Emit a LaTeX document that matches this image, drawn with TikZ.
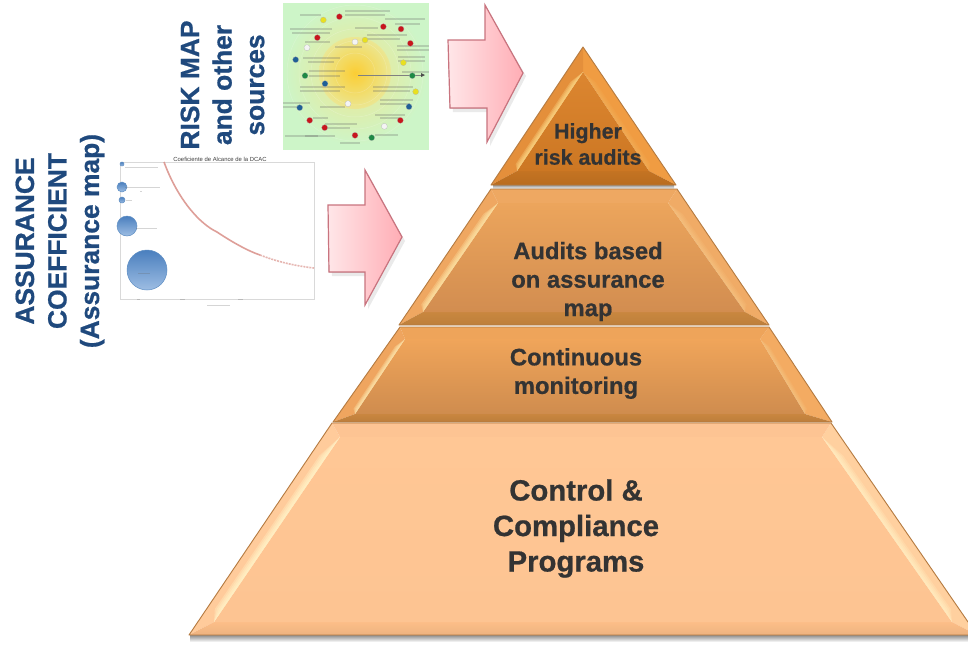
\documentclass[tikz,border=0pt]{standalone}
\usepackage{fontspec}
\setmainfont[BoldFeatures={FakeBold=0.7}]{Liberation Sans}
\usetikzlibrary{calc}
\definecolor{lblblue}{HTML}{1F497D}
\definecolor{txtdark}{HTML}{333333}
\definecolor{edgebrown}{HTML}{B47A40}
\definecolor{dotR}{HTML}{C8161C}
\definecolor{dotB}{HTML}{1F5F96}
\definecolor{dotG}{HTML}{1E8A45}
\definecolor{dotY}{HTML}{E8E020}
\definecolor{dotW}{HTML}{F4F4F4}
\definecolor{mapgreen}{HTML}{CDF5C8}
\definecolor{mapmid}{HTML}{EFE68E}
\definecolor{mapcore}{HTML}{FFC81E}
\definecolor{curvered}{HTML}{D98F88}
\tikzset{
  px/.style={x=1pt,y=-1pt},
  pyrtext/.style 2 args={font=\bfseries\fontsize{#1}{#2}\selectfont,text=txtdark,align=center,inner sep=0pt},
  sidelabel/.style={font=\bfseries\fontsize{26.4}{32.5}\selectfont,text=lblblue,align=center,inner sep=0pt,rotate=90},
  blockarrow/.style={left color=arrowpale,right color=arrowpink,draw=arrowedge,line width=1.2pt,line join=miter},
  smudge/.style={draw=black!60,line width=1.3pt,opacity=.27},
  bubble/.style={top color=bubbleA,bottom color=bubbleB,draw=bubbleE,line width=.5pt},
}
\definecolor{arrowpale}{HTML}{FFE6E8}
\definecolor{arrowpink}{HTML}{FFADB5}
\definecolor{arrowedge}{HTML}{C9747F}
\definecolor{bubbleA}{HTML}{4A7FBE}
\definecolor{bubbleB}{HTML}{9DBDE3}
\definecolor{bubbleE}{HTML}{5F8FC4}
\newcommand{\pyrlayer}[9]{% top, bottom, left, right, band, topband, pale, wedge width, right wedge opacity
  \definecolor{cT}{HTML}{#1}\definecolor{cB}{HTML}{#2}\definecolor{cL}{HTML}{#3}\definecolor{cR}{HTML}{#4}%
  \definecolor{cBand}{HTML}{#5}\definecolor{cTop}{HTML}{#6}\definecolor{cPale}{HTML}{#7}%
  \fill[cL] (o1)--(i1)--(i4)--(o4)--cycle;
  \fill[cR] (o2)--(i2)--(i3)--(o3)--cycle;
  \fill[cTop] (o1)--(o2)--(i2)--(i1)--cycle;
  \shade[top color=cBand,bottom color=cBand!94!black] (o4)--(i4)--(i3)--(o3)--cycle;
  \shade[top color=cT,bottom color=cB] (i1)--(i2)--(i3)--(i4)--cycle;
  \foreach \k in {1,2,3,4}{
    \pgfmathsetmacro{\w}{#8*\k/4}
    \fill[cPale,opacity=.28] (i1)--(i4)--($(i4)!.07!(i1)+(-\w,0)$)--($(i4)!.9!(i1)+(-\w,0)$)--cycle;
    \fill[cPale,opacity=#9] (i2)--(i3)--($(i3)!.07!(i2)+(\w,0)$)--($(i3)!.9!(i2)+(\w,0)$)--cycle;
  }
  \draw[edgebrown,line width=.9pt,line join=round] (o1)--(o2)--(o3)--(o4)--cycle;
}
\begin{document}
\begin{tikzpicture}[px]
\useasboundingbox (0,0) rectangle (968,654);
\fill[white] (0,0) rectangle (968,654);
\begin{scope}
\clip (0,0) rectangle (968,654);

% ---------- shadows
\fill[black!45,opacity=.18] (450,44) -- (487,44) -- (487,9) -- (526,76) -- (490,146) -- (490,112) -- (453,112) -- cycle;
\fill[black!45,opacity=.18] (331,209) -- (368,209) -- (368,174) -- (405,241) -- (368,309) -- (368,276) -- (332,276) -- cycle;
\shade[top color=black!45,bottom color=white] (190,635) rectangle (968,642);
\shade[top color=black!40,bottom color=white] (493,185) rectangle (674,189);

% ---------- bottom layer
\coordinate (o1) at (332,423); \coordinate (o2) at (831,423);
\coordinate (o3) at (977,635); \coordinate (o4) at (189,635);
\coordinate (i1) at (340,437); \coordinate (i2) at (822,437);
\coordinate (i3) at (952,622); \coordinate (i4) at (214,622);
\pyrlayer{FFC795}{FDC492}{FFCB9B}{FFD09F}{FCBE88}{FDC493}{FFFBD0}{8}{.2}
% ---------- third layer
\coordinate (o1) at (400,327); \coordinate (o2) at (769,327);
\coordinate (o3) at (832,422); \coordinate (o4) at (333,422);
\coordinate (i1) at (405,339); \coordinate (i2) at (760,339);
\coordinate (i3) at (805,414); \coordinate (i4) at (355,414);
\pyrlayer{F0A55A}{CF8C4E}{EFA55F}{F3AB62}{C9863F}{EEA45A}{FFF0B8}{5}{.08}
% ---------- second layer
\coordinate (o1) at (491,189); \coordinate (o2) at (677,189);
\coordinate (o3) at (769,325); \coordinate (o4) at (399,325);
\coordinate (i1) at (498,203); \coordinate (i2) at (668,203);
\coordinate (i3) at (745,312); \coordinate (i4) at (423,312);
\pyrlayer{ECA55C}{D28D50}{EFA761}{F0AB66}{C9873F}{EEA862}{FFEDB0}{7}{.08}
% ---------- top layer
\coordinate (o1) at (583,47); \coordinate (o2) at (583,47);
\coordinate (o3) at (676,185); \coordinate (o4) at (491,185);
\coordinate (i1) at (583,72); \coordinate (i2) at (583,72);
\coordinate (i3) at (649,171); \coordinate (i4) at (517,171);
\pyrlayer{DC8630}{CC7723}{E48F3B}{F09C42}{C47322}{E48F3B}{FFE18F}{6}{.06}

% ---------- block arrows
\filldraw[blockarrow] (448,40) -- (485,40) -- (485,5) -- (523,73) -- (487,142) -- (487,108) -- (450,108) -- cycle;
\filldraw[blockarrow] (328,205) -- (365,205) -- (365,170) -- (402,237) -- (365,305) -- (365,272) -- (329,272) -- cycle;

% ---------- risk map picture
\begin{scope}
  \clip (283,3) rectangle (429,150);
  \fill[mapgreen] (283,3) rectangle (429,150);
  \shade[inner color=mapmid,outer color=mapgreen] (355,73) circle[radius=72];
  \shade[inner color=mapcore,outer color=mapmid,opacity=.8] (355,73) circle[radius=36];
  \foreach \r in {20,32,44,56,68}{\draw[white,opacity=.2,line width=.5pt] (355,73) circle[radius=\r];}
  \foreach \xa/\xb/\yy in {300/321/15, 345/390/11, 345/385/15, 385/425/19, 395/420/24, 290/332/29, 292/330/33, 305/330/42, 355/378/28, 367/407/35, 367/400/39, 397/429/46, 397/429/50, 335/362/47, 303/340/58, 308/334/62, 398/425/57, 398/425/61, 309/345/71, 309/340/76, 402/429/72, 373/413/87, 373/410/91, 300/345/87, 300/340/91, 283/310/103, 283/303/107, 320/345/107, 380/413/100, 380/410/104, 375/405/115, 380/400/118, 313/328/118, 325/357/124, 325/350/128, 305/335/136, 285/318/136, 340/360/143, 375/398/135}{\draw[smudge] (\xa,\yy)--(\xb,\yy);}
  \draw[black!50,line width=.5pt] (358,75)--(422,75);
  \fill[black!70] (421,73)--(425,75)--(421,77)--cycle;
  \foreach \dx/\dy/\dc in {130/60/dotY, 178/50/dotR, 310/80/dotR, 363/87/dotR, 255/120/dotY, 225/126/dotW, 112/113/dotR, 81/143/dotW, 391/130/dotR, 47/179/dotB, 370/188/dotY, 75/227/dotG, 397/227/dotG, 135/251/dotB, 407/275/dotY, 204/311/dotW, 59/323/dotB, 387/320/dotB, 89/361/dotR, 361/361/dotR, 134/383/dotR, 313/379/dotW, 225/406/dotR, 275/413/dotG}{\fill[\dc,draw=black!30,line width=.2pt] ({280+\dx/3},{\dy/3}) circle[radius=3];}
\end{scope}

% ---------- assurance chart picture
\draw[black!15,line width=.8pt] (120,162) rectangle (314,299);
\draw[curvered,line width=1.6pt,opacity=.85] (164,162) .. controls (178,200) and (200,224) .. (217,232)
  .. controls (232,242) and (248,251) .. (260,255);
\draw[curvered,line width=1.6pt,opacity=.65,dash pattern=on 2pt off 1pt] (260,255) .. controls (278,262) and (296,266) .. (314,268);
\shade[bubble] (147,270) circle[radius=20];
\shade[bubble] (127,226) circle[radius=10];
\shade[bubble] (122,200) circle[radius=3];
\shade[bubble] (122,187) circle[radius=5];
\shade[bubble] (122,164) circle[radius=2];
\foreach \xa/\xb/\yy in {136/157/228, 138/150/273, 125/160/187, 140/142/191, 125/158/167, 126/132/200, 207/230/305, 137/140/299, 180/185/299, 238/243/299}{\draw[smudge,line width=1pt] (\xa,\yy)--(\xb,\yy);}
\node[inner sep=0pt,font=\fontsize{5.9}{7}\selectfont,text=black!75] (charttitle) at (220,159) {Coeficiente de Alcance de la DCAC};

% ---------- side labels
\node[sidelabel] (assurance) at (60,241) {ASSURANCE\\COEFFICIENT\\(Assurance map)};
\node[sidelabel] (riskmap) at (222.5,85) {RISK MAP\\and other\\sources};

% ---------- pyramid text
\node[pyrtext={21.4}{26}] (l1) at (588,144) {Higher\\risk audits};
\node[pyrtext={23.8}{28.5}] (l2) at (588,281.5) {Audits based\\on assurance\\map};
\node[pyrtext={23.8}{28.5}] (l3) at (576,373.5) {Continuous\\monitoring};
\node[pyrtext={29.3}{35.5}] (l4) at (576,528.5) {Control \&\\Compliance\\Programs};
\end{scope}
\end{tikzpicture}
\end{document}
